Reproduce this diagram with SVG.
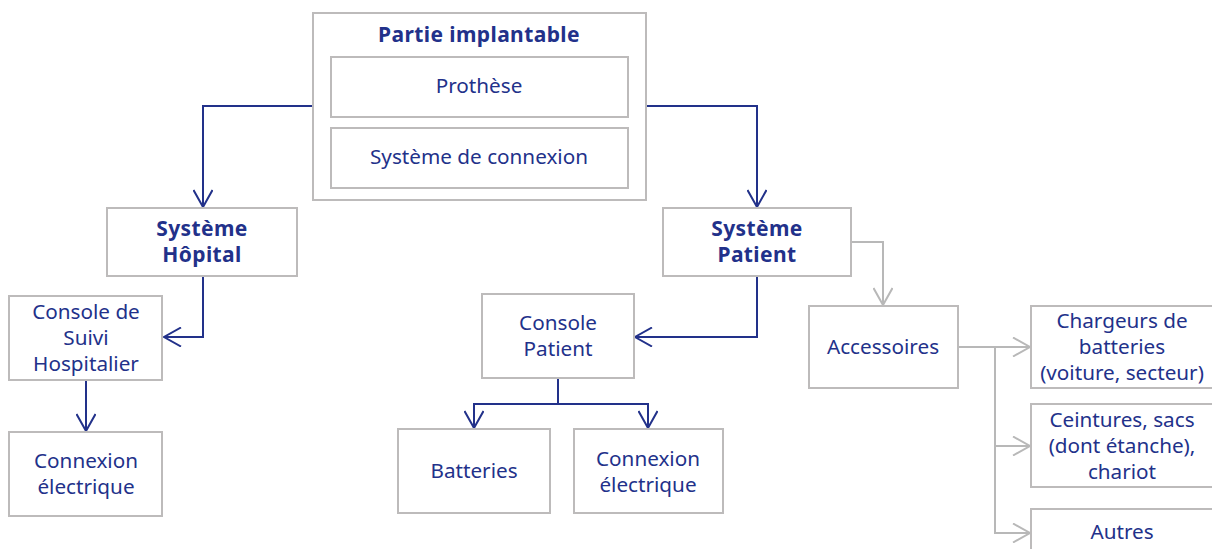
<svg xmlns="http://www.w3.org/2000/svg" width="1212" height="549" viewBox="0 0 1212 549">
<defs>
<style>
.box{fill:#fff;stroke:#bdbbbb;stroke-width:2}
.t{font-family:"Noto Sans","Open Sans",sans-serif;font-size:20.7px;fill:#22318a;text-anchor:middle}
.b{font-weight:bold;font-size:21px;letter-spacing:0.4px}
.cb{fill:none;stroke:#22318a;stroke-width:2}
.cg{fill:none;stroke:#b8b8b8;stroke-width:2}
</style>
<marker id="ab" viewBox="0 0 20 20" refX="18" refY="10" markerWidth="20" markerHeight="20" markerUnits="userSpaceOnUse" orient="auto">
<path d="M1,0.5 L18,10 L1,19.5" fill="none" stroke="#22318a" stroke-width="2"/>
</marker>
<marker id="ag" viewBox="0 0 20 20" refX="18" refY="10" markerWidth="20" markerHeight="20" markerUnits="userSpaceOnUse" orient="auto">
<path d="M1,0.5 L18,10 L1,19.5" fill="none" stroke="#b8b8b8" stroke-width="2"/>
</marker>
</defs>
<rect width="1212" height="549" fill="#fff"/>
<g id="connectors">
<path class="cb" d="M313,106 H203 V207" marker-end="url(#ab)"/>
<path class="cb" d="M646,106 H757 V207" marker-end="url(#ab)"/>
<path class="cb" d="M203,276 V337 H164" marker-end="url(#ab)"/>
<path class="cb" d="M86,380 V431" marker-end="url(#ab)"/>
<path class="cb" d="M757,276 V337 H635" marker-end="url(#ab)"/>
<path class="cb" d="M558,378 V404 H474 V428" marker-end="url(#ab)"/>
<path class="cb" d="M558,404 H648 V428" marker-end="url(#ab)"/>
<path class="cg" d="M852,242 H883 V305" marker-end="url(#ag)"/>
<path class="cg" d="M958,347 H995" stroke-width="3"/>
<path class="cg" d="M995,347 H1030" marker-end="url(#ag)"/>
<path class="cg" d="M995,347 V533 H1030" marker-end="url(#ag)"/>
<path class="cg" d="M995,446 H1030" marker-end="url(#ag)"/>
</g>
<g id="partie-implantable">
<rect class="box" x="313" y="13" width="333" height="187"/>
<text class="t b" x="479" y="42">Partie implantable</text>
</g>
<g id="prothese">
<rect class="box" x="331" y="57" width="297" height="60"/>
<text class="t" x="479" y="93">Prothèse</text>
</g>
<g id="systeme-connexion">
<rect class="box" x="331" y="128" width="297" height="60"/>
<text class="t" x="479" y="164">Système de connexion</text>
</g>
<g id="systeme-hopital">
<rect class="box" x="107" y="208" width="190" height="68"/>
<text class="t b" x="202" y="236">Système</text>
<text class="t b" x="202" y="262">Hôpital</text>
</g>
<g id="console-suivi">
<rect class="box" x="9" y="296" width="153" height="84"/>
<text class="t" x="86" y="319">Console de</text>
<text class="t" x="86" y="345">Suivi</text>
<text class="t" x="86" y="371">Hospitalier</text>
</g>
<g id="connexion-electrique-h">
<rect class="box" x="9" y="432" width="153" height="84"/>
<text class="t" x="86" y="468">Connexion</text>
<text class="t" x="86" y="494">électrique</text>
</g>
<g id="systeme-patient">
<rect class="box" x="663" y="208" width="188" height="68"/>
<text class="t b" x="757" y="236">Système</text>
<text class="t b" x="757" y="262">Patient</text>
</g>
<g id="console-patient">
<rect class="box" x="482" y="294" width="152" height="84"/>
<text class="t" x="558" y="330">Console</text>
<text class="t" x="558" y="356">Patient</text>
</g>
<g id="batteries">
<rect class="box" x="398" y="429" width="152" height="84"/>
<text class="t" x="474" y="478">Batteries</text>
</g>
<g id="connexion-electrique-p">
<rect class="box" x="574" y="429" width="149" height="84"/>
<text class="t" x="648" y="466">Connexion</text>
<text class="t" x="648" y="492">électrique</text>
</g>
<g id="accessoires">
<rect class="box" x="809" y="306" width="149" height="82"/>
<text class="t" x="883" y="354">Accessoires</text>
</g>
<g id="chargeurs">
<rect class="box" x="1031" y="306" width="183" height="82"/>
<text class="t" x="1122" y="328">Chargeurs de</text>
<text class="t" x="1122" y="354">batteries</text>
<text class="t" x="1122" y="380">(voiture, secteur)</text>
</g>
<g id="ceintures">
<rect class="box" x="1031" y="404" width="183" height="83"/>
<text class="t" x="1122" y="427">Ceintures, sacs</text>
<text class="t" x="1122" y="453">(dont étanche),</text>
<text class="t" x="1122" y="479">chariot</text>
</g>
<g id="autres">
<rect class="box" x="1031" y="509" width="183" height="60"/>
<text class="t" x="1122" y="539">Autres</text>
</g>
</svg>
